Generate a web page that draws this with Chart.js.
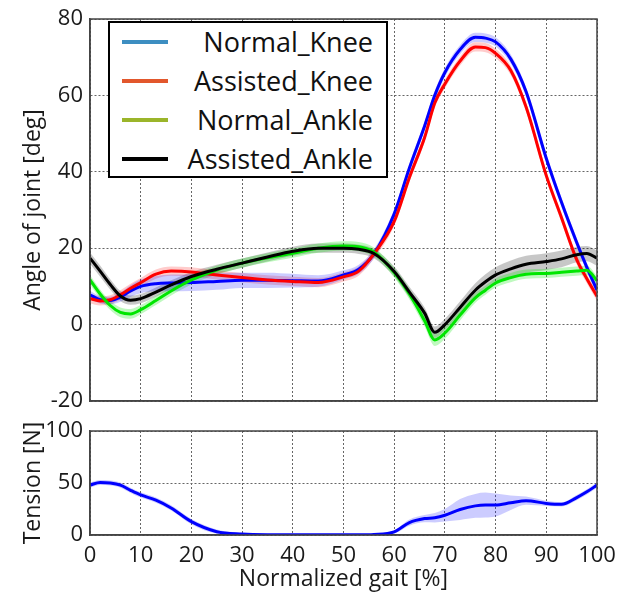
<!DOCTYPE html>
<html>
<head>
<meta charset="utf-8">
<script src="https://cdn.jsdelivr.net/npm/chart.js@4.4.1/dist/chart.umd.min.js"></script>
<style>
  body { margin: 0; background: #fff; width: 617px; height: 599px; position: relative; overflow: hidden; font-family: 'Open Sans', sans-serif; }
  #angleChart { position: absolute; left: 0; top: 0; }
  #tensionChart { position: absolute; left: 0; top: 416px; }
  #legend { position: absolute; left: 108px; top: 21px; width: 276px; height: 153px; border: 2px solid #000; background: #fff; }
  .row { position: absolute; left: 0; width: 276px; height: 38px; }
  .swatch { position: absolute; left: 12px; top: 17px; width: 46px; height: 4px; }
  .txt { position: absolute; right: 13px; top: 0; font-size: 27px; line-height: 38px; color: #111; white-space: nowrap; }
</style>
</head>
<body>
<canvas id="angleChart" width="617" height="416"></canvas>
<canvas id="tensionChart" width="617" height="183"></canvas>
<div id="legend"></div>
<script>
// normalized gait [%]
const gait = [0, 2, 4, 6, 8, 10, 13, 16, 20, 25, 30, 35, 40, 45, 50, 53, 56, 60, 63, 66, 68, 70, 73, 76, 78, 80, 83, 86, 90, 93, 96, 98, 100];

// joint angles [deg]
const normalKnee    = [7.8, 6.5, 6.3, 7.2, 8.8, 10, 10.7, 10.9, 11, 11.3, 11.6, 11.6, 11.5, 11.4, 13, 14.5, 18.5, 29, 41, 52, 60, 66, 72, 75.2, 75, 74, 69.5, 61, 43.5, 32, 21.5, 15, 9];
const assistedKnee  = [6.8, 6.2, 6.5, 7.8, 9.5, 11, 13.2, 14, 13.8, 13, 12.3, 11.7, 11.3, 11, 12.5, 14, 18.5, 27, 38.5, 49, 58, 63, 69, 72.7, 72.5, 71, 66.5, 57, 39, 28, 17, 12, 7.4];
const normalAnkle   = [11.7, 8, 5, 3.2, 2.8, 3.9, 6.3, 8.8, 11.7, 14.3, 16.1, 17.5, 18.7, 20, 20.6, 20.4, 19, 13.6, 8, 1, -4, -2.2, 2.5, 7, 9, 10.9, 12.3, 13.2, 13.4, 13.7, 14, 14.2, 11.5];
const assistedAnkle = [17.4, 14, 10.5, 7.5, 6.4, 6.8, 8.5, 10.4, 12.6, 14.5, 16.1, 17.7, 19.2, 20, 20, 19.7, 18.6, 13.9, 8.5, 3, -2, 0, 4.5, 9, 11.2, 13, 14.6, 15.8, 16.5, 17.2, 18.3, 18.6, 17.4];

// spread (shaded bands)
const normalKneeSd    = [1, 1, 1, 1.2, 1.5, 1.8, 2, 2.2, 2.2, 2.2, 2, 2, 1.8, 1.5, 1.2, 1.2, 1.2, 1.2, 1.2, 1.2, 1.2, 1.2, 1.2, 1.2, 1.2, 1.2, 1.2, 1.2, 1.2, 1.2, 1.2, 1.2, 1.2];
const assistedKneeSd  = [1.2, 1.2, 1.2, 1.2, 1.2, 1.2, 1.2, 1.2, 1.2, 1.2, 1.2, 1.2, 1.2, 1.2, 1.2, 1.2, 1.2, 1.2, 1.2, 1.2, 1.2, 1.2, 1.2, 1.2, 1.2, 1.2, 1.2, 1.2, 1.2, 1.2, 1.2, 1.2, 1.2];
const normalAnkleSd   = [1.2, 1.2, 1.2, 1.3, 1.3, 1.2, 1.2, 1.2, 1.2, 1.2, 1.2, 1.2, 1.2, 1.2, 1.2, 1.2, 1.2, 1.3, 1.4, 1.5, 1.6, 1.5, 1.4, 1.3, 1.2, 1.2, 1.2, 1.2, 1.2, 1.2, 1.2, 1.2, 1.2];
const assistedAnkleSd = [1.5, 1.5, 1.4, 1.3, 1.2, 1.2, 1.2, 1.2, 1.2, 1.2, 1.2, 1.2, 1.2, 1.2, 1.2, 1.2, 1.2, 1.3, 1.4, 1.5, 1.5, 1.5, 1.6, 1.8, 2, 2, 2.2, 2.2, 2.2, 2.2, 2, 2, 2];

// cable tension [N]
const tension   = [48, 50.5, 50, 48, 43, 38.5, 33.5, 26, 12.8, 3.2, 1, 0.3, 0.2, 0.2, 0.2, 0.2, 0.5, 3, 12, 15.8, 16.6, 19, 24.5, 28, 28.8, 28.8, 31, 33, 30.4, 29.5, 36, 41.5, 48];
const tensionSd = [2.5, 2.5, 2.5, 2.5, 2.5, 2.5, 2.5, 2.5, 2.5, 2, 1, 0.5, 0.5, 0.5, 0.5, 0.5, 0.5, 1.5, 3, 3.5, 4.5, 6, 10, 11.5, 12, 11, 7, 4, 2.5, 2, 2.5, 2.5, 2.5];

const labels = ['Normal_Knee', 'Assisted_Knee', 'Normal_Ankle', 'Assisted_Ankle'];
const lineColors = ['#0000ff', '#ff0000', '#00e600', '#000000'];
const bandColors = ['rgba(0,0,255,0.2)', 'rgba(255,0,0,0.2)', 'rgba(0,230,0,0.25)', 'rgba(0,0,0,0.22)'];
const legendColors = ['#3d8ec1', '#e2572c', '#9bb52a', '#000000'];

const tickFont = { family: "'Open Sans'", size: 22 };
const titleFont = { family: "'Open Sans'", size: 23 };
const textColor = '#1a1a1a';

// dotted grid; the invisible tick marks only push the labels away from the axis
const yGrid = { color: '#666', lineWidth: 1, drawTicks: true, tickLength: 7, tickColor: 'rgba(0,0,0,0)' };
const xGridTop = { color: '#666', lineWidth: 1, drawTicks: false };
const xGridBottom = { color: '#666', lineWidth: 1, drawTicks: true, tickLength: 8, tickColor: 'rgba(0,0,0,0)' };
const axisBorder = { display: true, color: '#444', width: 1.5, dash: [2, 2] };

function pts(ys) {
    return gait.map((x, i) => ({ x: x, y: ys[i] }));
}

function band(mean, sd, color) {
    const upper = mean.map((v, i) => v + sd[i]);
    const lower = mean.map((v, i) => v - sd[i]);
    return [
        { data: pts(upper), borderWidth: 0, pointRadius: 0, backgroundColor: color, fill: '+1', cubicInterpolationMode: 'monotone', order: 10 },
        { data: pts(lower), borderWidth: 0, pointRadius: 0, backgroundColor: color, fill: false, cubicInterpolationMode: 'monotone', order: 10 }
    ];
}

function line(mean, color, order) {
    return { data: pts(mean), borderColor: color, borderWidth: 3, pointRadius: 0, fill: false, cubicInterpolationMode: 'monotone', order: order };
}

// box round the plot area, like the original
const frame = {
    id: 'frame',
    afterDatasetsDraw(chart) {
        const a = chart.chartArea;
        const ctx = chart.ctx;
        ctx.save();
        ctx.strokeStyle = '#444';
        ctx.lineWidth = 1.5;
        ctx.strokeRect(a.left, a.top, a.right - a.left, a.bottom - a.top);
        ctx.restore();
    }
};

const angleData = [];
const means = [normalKnee, assistedKnee, normalAnkle, assistedAnkle];
const sds = [normalKneeSd, assistedKneeSd, normalAnkleSd, assistedAnkleSd];
means.forEach((m, i) => angleData.push(...band(m, sds[i], bandColors[i])));
means.forEach((m, i) => angleData.push(line(m, lineColors[i], 4 - i)));

new Chart(document.getElementById('angleChart'), {
    type: 'line',
    data: { datasets: angleData },
    options: {
        responsive: false,
        animation: false,
        layout: { padding: { top: 19, right: 20, left: 0, bottom: 0 } },
        plugins: { legend: { display: false }, tooltip: { enabled: false } },
        scales: {
            x: {
                type: 'linear', min: 0, max: 100,
                ticks: { display: false, stepSize: 10 },
                grid: xGridTop,
                border: axisBorder,
                afterFit: (s) => { s.height = 15; }
            },
            y: {
                min: -20, max: 80,
                ticks: { stepSize: 20, font: tickFont, color: textColor, padding: 0 },
                grid: yGrid,
                border: axisBorder,
                title: { display: true, text: 'Angle of joint [deg]', font: titleFont, color: textColor, padding: { top: 20 } },
                afterFit: (s) => { s.width = 90; }
            }
        }
    },
    plugins: [frame]
});

const tensionData = [
    ...band(tension, tensionSd, 'rgba(0,0,255,0.2)'),
    line(tension, '#0000ff', 1)
];

new Chart(document.getElementById('tensionChart'), {
    type: 'line',
    data: { datasets: tensionData },
    options: {
        responsive: false,
        animation: false,
        layout: { padding: { top: 15, right: 20, left: 0, bottom: 0 } },
        plugins: { legend: { display: false }, tooltip: { enabled: false } },
        scales: {
            x: {
                type: 'linear', min: 0, max: 100,
                ticks: { stepSize: 10, font: tickFont, color: textColor, padding: 0, maxRotation: 0 },
                grid: xGridBottom,
                border: axisBorder,
                title: { display: true, text: 'Normalized gait [%]', font: titleFont, color: textColor, padding: { bottom: 6 } },
                afterFit: (s) => { s.height = 64; }
            },
            y: {
                min: 0, max: 100,
                ticks: { stepSize: 50, font: tickFont, color: textColor, padding: 0 },
                grid: yGrid,
                border: axisBorder,
                title: { display: true, text: 'Tension [N]', font: titleFont, color: textColor, padding: { top: 20 } },
                afterFit: (s) => { s.width = 90; }
            }
        }
    },
    plugins: [frame]
});

// legend box (text right aligned, as in the original)
const legendBox = document.getElementById('legend');
labels.forEach((name, i) => {
    const row = document.createElement('div');
    row.className = 'row';
    row.style.top = (i * 39) + 'px';
    row.innerHTML = '<div class="swatch" style="background:' + legendColors[i] + '"></div><div class="txt">' + name + '</div>';
    legendBox.appendChild(row);
});
</script>
</body>
</html>
